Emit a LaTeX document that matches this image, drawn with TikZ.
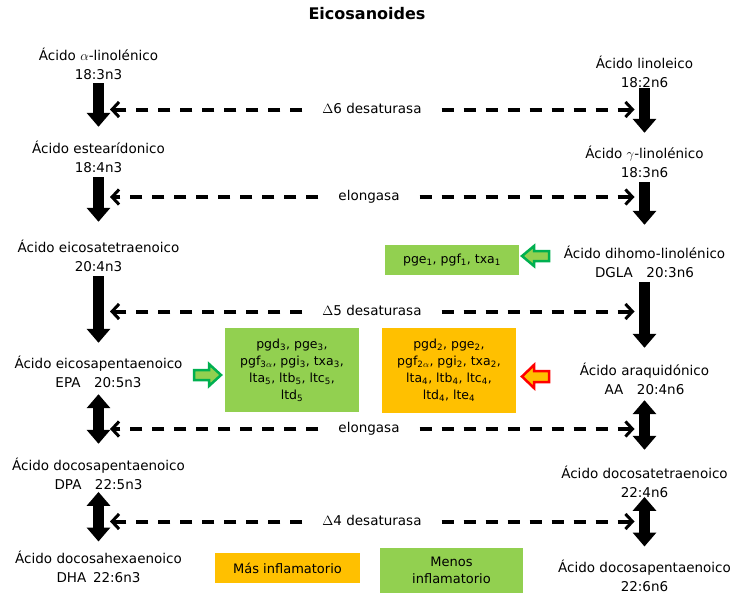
\RequirePackage{fix-cm}
\documentclass[tikz,border=0pt]{standalone}
\usepackage{fontspec}
\setmainfont{DejaVu Sans}
\usetikzlibrary{arrows.meta}
\definecolor{lgreen}{HTML}{92D050}
\definecolor{dgreen}{HTML}{00B050}
\definecolor{orng}{HTML}{FFC000}
\definecolor{rred}{HTML}{FF0000}
\newcommand\twol[2]{\begin{tabular}[t]{@{}c@{}}#1\\#2\end{tabular}}
\newcommand\sub[1]{\textsubscript{#1}}
\begin{document}
\begin{tikzpicture}[x=1pt,y=-1pt,
  acid/.style={font=\fontsize{13.5}{19}\selectfont, inner sep=0pt, anchor=base},
  bigarrow/.style={line width=10.5pt, -{Triangle[length=14pt,width=23pt]}},
  dbigarrow/.style={line width=10.5pt, {Triangle[length=14pt,width=23pt]}-{Triangle[length=14pt,width=23pt]}},
  dashline/.style={line width=4pt, dash pattern=on 12pt off 10pt, -{Straight Barb[length=7pt,width=15pt,line width=3pt]}},
  enz/.style={font=\fontsize{13.5}{19}\selectfont, inner xsep=20pt, inner ysep=0pt, anchor=base},
  ebox/.style={font=\fontsize{12.5}{17}\selectfont, align=center, inner sep=0pt},
  lbox/.style={font=\fontsize{13}{17}\selectfont, align=center, inner sep=0pt},
  garrow/.style={line width=2.5pt, line join=miter, draw=dgreen, fill=lgreen},
  rarrow/.style={line width=2.5pt, line join=miter, draw=rred, fill=orng}
]
\useasboundingbox (0,0) rectangle (736,594);
\node[anchor=base, inner sep=0pt, font=\fontsize{16}{19}\selectfont\bfseries] (title) at (367,19.3) {Eicosanoides};

% left column (n3)
\node[acid] (L1) at (98.5,61) {\twol{Ácido $\alpha$-linolénico}{18:3n3}};
\node[acid] (L2) at (98.5,153) {\twol{Ácido estearídonico}{18:4n3}};
\node[acid] (L3) at (98.5,252) {\twol{Ácido eicosatetraenoico}{20:4n3}};
\node[acid] (L4) at (98.5,368) {\twol{Ácido eicosapentaenoico}{EPA\quad 20:5n3}};
\node[acid] (L5) at (98.5,470) {\twol{Ácido docosapentaenoico}{DPA\quad 22:5n3}};
\node[acid] (L6) at (98.5,563) {\twol{Ácido docosahexaenoico}{DHA\enspace 22:6n3}};

% right column (n6)
\node[acid] (R1) at (644.5,68) {\twol{Ácido linoleico}{18:2n6}};
\node[acid] (R2) at (644.5,158) {\twol{Ácido $\gamma$-linolénico}{18:3n6}};
\node[acid] (R3) at (644.5,258) {\twol{Ácido dihomo-linolénico}{DGLA\quad 20:3n6}};
\node[acid] (R4) at (644.5,375) {\twol{Ácido araquidónico}{AA\quad 20:4n6}};
\node[acid] (R5) at (644.5,478) {\twol{Ácido docosatetraenoico}{22:4n6}};
\node[acid] (R6) at (644.5,572) {\twol{Ácido docosapentaenoico}{22:6n6}};

% main conversion arrows
\draw[bigarrow, shorten <=-2.7pt, shorten >=12.7pt] (L1.south) -- (L2.north);
\draw[bigarrow, shorten <=-0.7pt, shorten >=16.7pt] (L2.south) -- (L3.north);
\draw[bigarrow, shorten <=-0.7pt, shorten >=11.7pt] (L3.south) -- (L4.north);
\draw[dbigarrow, shorten <=1.3pt, shorten >=12.7pt] (L4.south) -- (L5.north);
\draw[dbigarrow, shorten <=-3pt, shorten >=8pt] (L5.south) -- (L6.north);

\draw[bigarrow, shorten <=-4.7pt, shorten >=11.7pt] (R1.south) -- (R2.north);
\draw[bigarrow, shorten <=-0.7pt, shorten >=19.7pt] (R2.south) -- (R3.north);
\draw[bigarrow, shorten <=-1pt, shorten >=13.7pt] (R3.south) -- (R4.north);
\draw[dbigarrow, shorten <=0.3pt, shorten >=14.7pt] (R4.south) -- (R5.north);
\draw[dbigarrow, shorten <=-6pt, shorten >=12pt] (R5.south) -- (R6.north);

% enzymes
\node[enz] (d6) at (372,113) {$\Delta$6 desaturasa};
\node[enz] (e1) at (369,200.5) {elongasa};
\node[enz] (d5) at (372,315) {$\Delta$5 desaturasa};
\node[enz] (e2) at (369,432.5) {elongasa};
\node[enz] (d4) at (372,525) {$\Delta$4 desaturasa};

\coordinate (d6L) at (110,109.5); \coordinate (d6R) at (634.5,109.5);
\coordinate (e1L) at (110,197);   \coordinate (e1R) at (634.5,197);
\coordinate (d5L) at (110,311.5); \coordinate (d5R) at (634.5,311.5);
\coordinate (e2L) at (110,429);   \coordinate (e2R) at (634.5,429);
\coordinate (d4L) at (110,521.5); \coordinate (d4R) at (634.5,521.5);

\foreach \e in {d6,e1,d5,e2,d4}{
  \draw[dashline] (\e.west |- \e L) -- (\e L);
  \draw[dashline] (\e.east |- \e R) -- (\e R);
}

% eicosanoid boxes
\node[ebox, fill=lgreen, minimum width=134pt, minimum height=30pt] (g1) at (452,260)
  {pge\sub{1}, pgf\sub{1}, txa\sub{1}};
\node[ebox, fill=lgreen, minimum width=134pt, minimum height=84pt] (g3) at (292,370)
  {pgd\sub{3}, pge\sub{3},\\pgf\sub{3$\alpha$}, pgi\sub{3}, txa\sub{3},\\lta\sub{5}, ltb\sub{5}, ltc\sub{5},\\ltd\sub{5}};
\node[ebox, fill=orng, minimum width=134pt, minimum height=85pt] (o2) at (449,370.5)
  {pgd\sub{2}, pge\sub{2},\\pgf\sub{2$\alpha$}, pgi\sub{2}, txa\sub{2},\\lta\sub{4}, ltb\sub{4}, ltc\sub{4},\\ltd\sub{4}, lte\sub{4}};

% legend
\node[lbox, fill=orng, minimum width=145pt, minimum height=30pt] (mas) at (287.5,568) {Más inflamatorio};
\node[lbox, fill=lgreen, minimum width=143pt, minimum height=45pt] (menos) at (451.5,570.5) {Menos\\inflamatorio};

% block arrows
\filldraw[garrow] (522,256) -- (534,246) -- (534,251) -- (549,251) -- (549,261) -- (534,261) -- (534,266) -- cycle;
\filldraw[rarrow] (522,376.5) -- (534,365) -- (534,371) -- (549,371) -- (549,382) -- (534,382) -- (534,388) -- cycle;
\filldraw[garrow] (221,375) -- (209,364) -- (209,370) -- (194,370) -- (194,380) -- (209,380) -- (209,386) -- cycle;
\end{tikzpicture}
\end{document}
